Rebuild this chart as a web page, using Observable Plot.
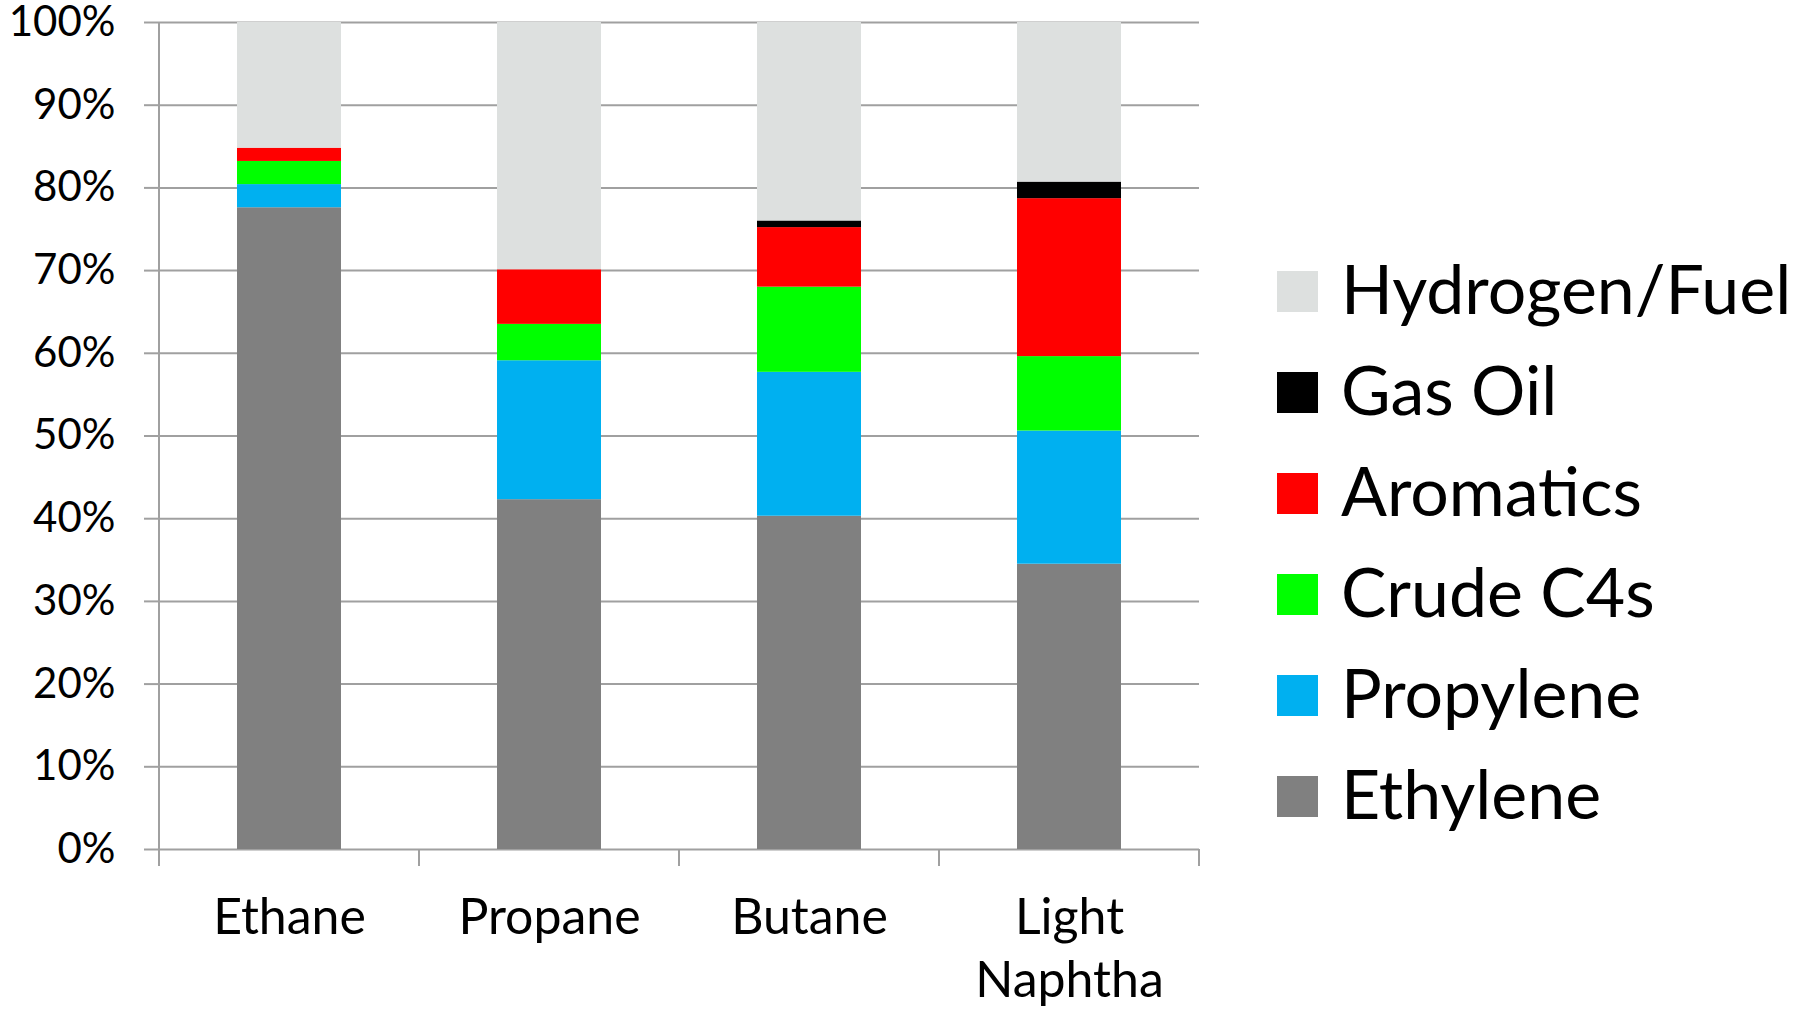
<!DOCTYPE html>
<html>
<head>
<meta charset="utf-8">
<script src="https://cdn.jsdelivr.net/npm/d3@7"></script>
<script src="https://cdn.jsdelivr.net/npm/@observablehq/plot@0.6"></script>
<style>
  html, body { margin: 0; padding: 0; background: #fff; }
  #chart { position: relative; width: 1802px; height: 1009px; font-family: Lato, "Open Sans", sans-serif; color: #000; }
  #legend { position: absolute; left: 1277px; top: 241px; }
  .row { display: flex; align-items: center; height: 101px; }
  .swatch { width: 41px; height: 41px; margin-right: 23px; flex: none; }
  .label { font-size: 68px; line-height: 1; white-space: nowrap; position: relative; top: -4px; }
</style>
</head>
<body>
<div id="chart"><div id="legend"></div></div>
<script>
// Feedstocks along the x axis
const feeds = ["Ethane", "Propane", "Butane", "Light Naphtha"];
// Products, stacked bottom to top
const products = ["Ethylene", "Propylene", "Crude C4s", "Aromatics", "Gas Oil", "Hydrogen/Fuel"];
const productColors = ["#808080", "#00B0F0", "#00FF00", "#FF0000", "#000000", "#DDE0DF"];
// Yield shares (% of product slate) per feed
const ethylene     = [77.6, 42.3, 40.3, 34.5];
const propylene    = [ 2.8, 16.8, 17.4, 16.1];
const crudeC4s     = [ 2.8,  4.4, 10.3,  9.0];
const aromatics    = [ 1.6,  6.6,  7.2, 19.1];
const gasOil       = [ 0.0,  0.0,  0.8,  2.0];
const hydrogenFuel = [15.2, 29.9, 24.0, 19.3];
// Y axis ticks (%)
const yTicks = [0, 10, 20, 30, 40, 50, 60, 70, 80, 90, 100];

const series = [ethylene, propylene, crudeC4s, aromatics, gasOil, hydrogenFuel];
const rows = [];
products.forEach((p, i) => feeds.forEach((f, j) => rows.push({feed: f, product: p, value: series[i][j]})));

const gridColor = "#a0a0a0";

// Y axis line plus Excel-style tick marks at the category boundaries
function categoryDividers() {
  return (index, scales) => {
    const x = scales.x, y = scales.y;
    const bw = typeof x.bandwidth === "function" ? x.bandwidth() : x.bandwidth;
    const step = typeof x.step === "function" ? x.step() : x.step;
    const gap = (step - bw) / 2;
    const y0 = y(0), y1 = y(100), tick = 17;
    const g = d3.create("svg:g").attr("stroke", gridColor).attr("stroke-width", 2);
    const xs = feeds.map(f => x(f) - gap);
    xs.push(x(feeds[feeds.length - 1]) + bw + gap);
    xs.forEach((px, i) => {
      g.append("line")
        .attr("x1", px).attr("x2", px)
        .attr("y1", i === 0 ? y1 : y0).attr("y2", y0 + tick);
    });
    return g.node();
  };
}

const plot = Plot.plot({
  width: 1802,
  height: 1009,
  marginLeft: 159,
  marginRight: 603,
  marginTop: 22,
  marginBottom: 160,
  style: {fontFamily: "Lato, 'Open Sans', sans-serif", fontSize: "42px", color: "#000", background: "transparent", overflow: "visible"},
  x: {domain: feeds, paddingInner: 0.6, paddingOuter: 0.3},
  y: {domain: [0, 100]},
  color: {domain: products, range: productColors},
  marks: [
    Plot.gridY(yTicks, {stroke: gridColor, strokeOpacity: 1, strokeWidth: 2}),
    Plot.barY(rows, {x: "feed", y: "value", fill: "product", order: products, inset: 0}),
    Plot.axisY(yTicks, {tickFormat: d => d + "%", tickSize: 15, tickPadding: 29, stroke: gridColor, strokeWidth: 2, fontSize: 42, label: null}),
    Plot.axisX({tickSize: 0, tickPadding: 39, fontSize: 50, lineHeight: 1.27, tickFormat: d => d.replace(" ", "\n"), label: null}),
    categoryDividers()
  ]
});

document.getElementById("chart").prepend(plot);

// Legend, listed top to bottom in the same order as the stack
const legend = d3.select("#legend");
products.slice().reverse().forEach(p => {
  const row = legend.append("div").attr("class", "row");
  row.append("div").attr("class", "swatch").style("background", productColors[products.indexOf(p)]);
  row.append("div").attr("class", "label").text(p);
});
</script>
</body>
</html>
